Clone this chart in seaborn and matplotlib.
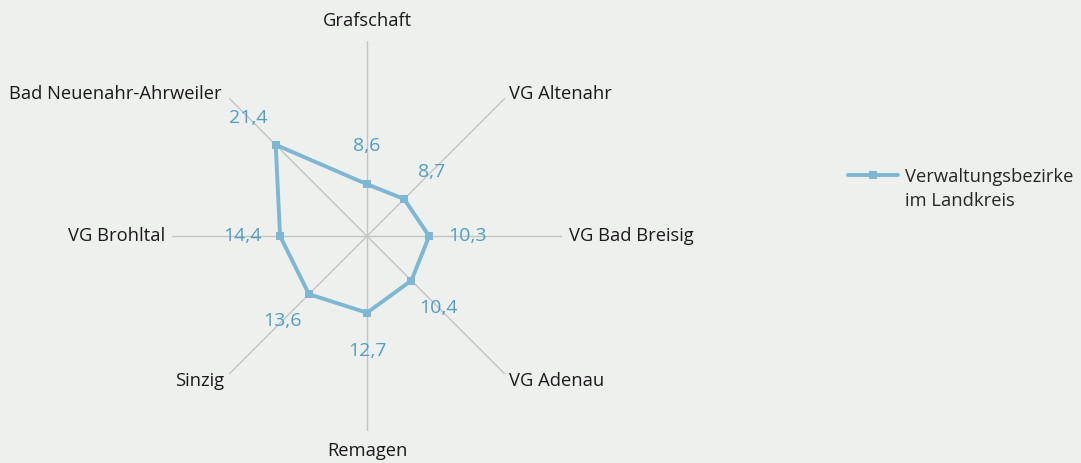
import numpy as np
import pandas as pd
import matplotlib
matplotlib.use("Agg")
import matplotlib.pyplot as plt
from matplotlib.lines import Line2D
import seaborn as sns

categories = ["Grafschaft", "VG Altenahr", "VG Bad Breisig", "VG Adenau",
              "Remagen", "Sinzig", "VG Brohltal", "Bad Neuenahr-Ahrweiler"]
values = [8.6, 8.7, 10.3, 10.4, 12.7, 13.6, 14.4, 21.4]
value_labels = ["8,6", "8,7", "10,3", "10,4", "12,7", "13,6", "14,4", "21,4"]
series_lines = ["Verwaltungsbezirke", "im Landkreis"]

bg = "#eef0ee"
line_col = "#7db7d3"
lab_col = "#4f9ec6"
grid_col = "#c4c4c4"

sns.set_theme(style="white")
plt.rcParams["font.family"] = ["Open Sans", "DejaVu Sans"]

fig = plt.figure(figsize=(10.81, 4.63), dpi=100, facecolor=bg)
ax = fig.add_axes([0.159, 0.069, 0.361, 0.842], projection="polar")
ax.set_facecolor(bg)
ax.set_theta_zero_location("N")
ax.set_theta_direction(-1)

n = len(categories)
angles = np.arange(n) * 2 * np.pi / n
df = pd.DataFrame({"theta": list(angles) + [angles[0] + 2 * np.pi],
                   "r": values + [values[0]]})
sns.lineplot(data=df, x="theta", y="r", ax=ax, sort=False, color=line_col,
             linewidth=2.8, marker="s", markersize=6, markeredgewidth=0,
             label=series_lines[0], legend=False)
ax.set_xlabel("")
ax.set_ylabel("")

rmax = 32.3
ax.set_ylim(0, rmax)
ax.set_yticks([])
ax.set_xticks(angles)
ax.set_xticklabels([])
ax.xaxis.grid(True, color=grid_col, linewidth=1.0)
ax.yaxis.grid(False)
ax.spines["polar"].set_visible(False)

px = 0.72  # points per pixel at 100 dpi

# value labels, outward along each spoke
for a, v, t in zip(angles, values, value_labels):
    dx, dy = np.sin(a), np.cos(a)
    ax.annotate(t, xy=(a, v), xytext=(dx * 27.5, dy * 27.5), textcoords="offset points",
                ha="center", va="center", color=lab_col, fontsize=14)

# category labels
for a, c in zip(angles, categories):
    dx, dy = np.sin(a), np.cos(a)
    if abs(dx) < 1e-6:
        ha = "center"
        off = (0, dy * 20 * px)
    elif abs(dy) < 1e-6:
        ha = "left" if dx > 0 else "right"
        off = (dx * 7 * px, 0)
    else:
        ha = "left" if dx > 0 else "right"
        if dx > 0:
            ox = 4
        else:
            ox = -8 if dy > 0 else -5
        oy = 4 if dy > 0 else -7
        off = (ox * px, oy * px)
    ax.annotate(c, xy=(a, rmax), xytext=off, textcoords="offset points",
                ha=ha, va="center", color="#1a1a1a", fontsize=13.2)

h, l = ax.get_legend_handles_labels()
blank = Line2D([], [], linestyle="none", marker=None)
fig.legend([h[0], blank], series_lines, loc="upper left",
           bbox_to_anchor=(0.776, 0.658), frameon=False,
           fontsize=13.2, handlelength=2.75, handletextpad=0.35, labelspacing=0.38,
           borderpad=0)

fig.savefig("out.png", dpi=100, facecolor=bg)
